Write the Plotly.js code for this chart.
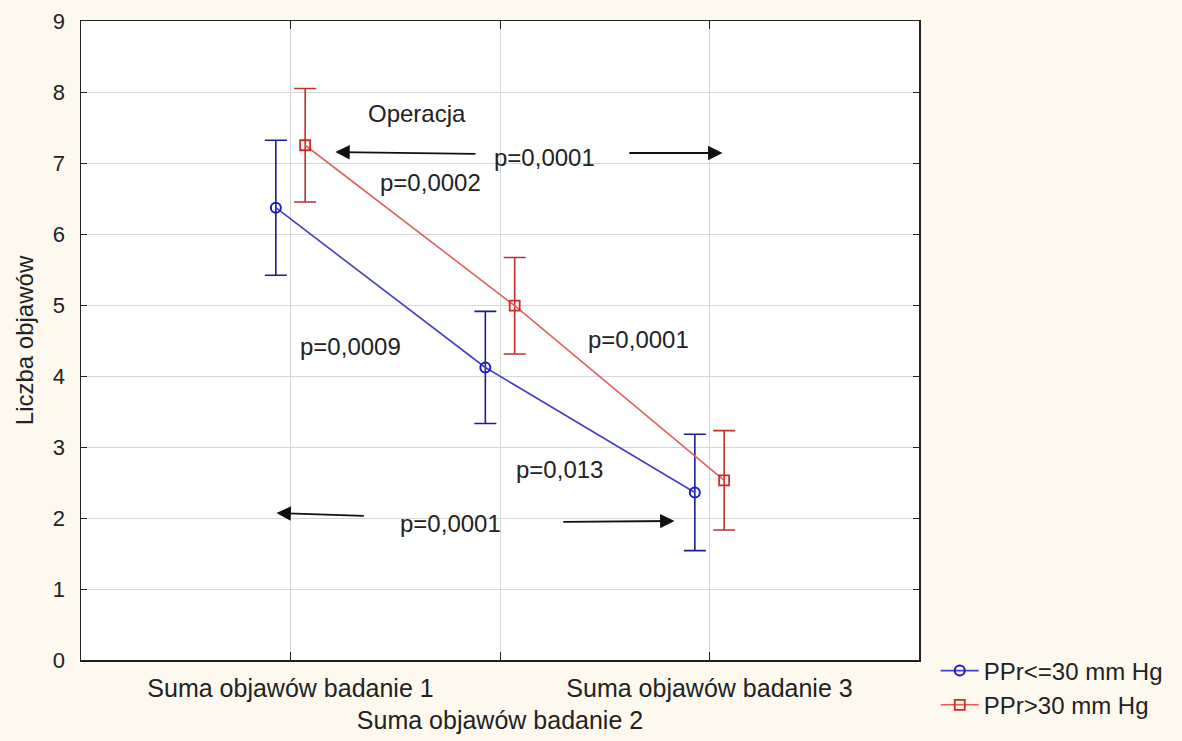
<!DOCTYPE html>
<html>
<head>
<meta charset="utf-8">
<script src="https://cdn.plot.ly/plotly-3.0.1.min.js"></script>
<style>
  html, body { margin: 0; padding: 0; background: #fdf9ee; }
  #chart { width: 1182px; height: 741px; }
</style>
</head>
<body>
<div id="chart"></div>
<script>
// Examinations (category positions 0, 1, 2 on the x axis)
const categories = ["Suma objawów badanie 1", "Suma objawów badanie 2", "Suma objawów badanie 3"];
const categoryPos = [0, 1, 2];

// Group names
const groupLow = "PPr<=30 mm Hg";
const groupHigh = "PPr>30 mm Hg";

// Mean symptom count and error half-width per examination
const meanLow = [6.37, 4.12, 2.36];
const errLow = [0.95, 0.79, 0.82];
const meanHigh = [7.25, 4.99, 2.53];
const errHigh = [0.80, 0.68, 0.70];

// Significance labels
const pLabels = ["p=0,0001", "p=0,0002", "p=0,0009", "p=0,0001", "p=0,013", "p=0,0001"];
const groupNote = "Operacja";

// Small horizontal dodge so the two groups do not overlap
const dodge = 0.07;
const xLow = categoryPos.map(v => v - dodge);
const xHigh = categoryPos.map(v => v + dodge);

// Middle label goes on a second row, as in a staggered axis
const tickText = categories.map((c, i) => i === 1 ? "<br>" + c : c);

const font = "Liberation Sans, Arial, sans-serif";

const traces = [
  {
    x: xLow, y: meanLow, name: groupLow,
    type: "scatter", mode: "lines+markers",
    line: { color: "#4040c8", width: 1.6 },
    marker: { symbol: "circle-open", size: 10, color: "#1c1cc0", line: { width: 2, color: "#1c1cc0" } },
    error_y: { type: "data", array: errLow, visible: true, color: "#1c1c90", thickness: 1.6, width: 11 }
  },
  {
    x: xHigh, y: meanHigh, name: groupHigh,
    type: "scatter", mode: "lines+markers",
    line: { color: "#e06060", width: 1.6 },
    marker: { symbol: "square-open", size: 10, color: "#d02828", line: { width: 1.8, color: "#d02828" } },
    error_y: { type: "data", array: errHigh, visible: true, color: "#c03030", thickness: 1.6, width: 11 }
  }
];

// Text labels inside the plot
const textNote = (text, x, y) => ({
  text: text, x: x, y: y, xref: "x", yref: "y",
  showarrow: false, font: { family: font, size: 24, color: "#222" }
});

// Horizontal arrows between examinations
const arrow = (x0, y0, x1, y1) => ({
  text: "", x: x1, y: y1, ax: x0, ay: y0,
  xref: "x", yref: "y", axref: "x", ayref: "y",
  showarrow: true, arrowhead: 2, arrowsize: 1.6, arrowwidth: 1.8, arrowcolor: "#111"
});

const annotations = [
  textNote(groupNote, 0.605, 7.70),
  textNote(pLabels[0], 1.214, 7.08),
  textNote(pLabels[1], 0.667, 6.72),
  textNote(pLabels[2], 0.286, 4.41),
  textNote(pLabels[3], 1.662, 4.51),
  textNote(pLabels[4], 1.286, 2.68),
  textNote(pLabels[5], 0.762, 1.92),
  arrow(0.890, 7.127, 0.214, 7.155),
  arrow(1.610, 7.141, 2.062, 7.141),
  arrow(0.357, 2.028, -0.067, 2.070),
  arrow(1.295, 1.944, 1.833, 1.958)
];

const layout = {
  width: 1182, height: 741,
  margin: { l: 81, r: 263, t: 21, b: 81 },
  paper_bgcolor: "#fdf9ee",
  plot_bgcolor: "#ffffff",
  font: { family: font, size: 22, color: "#222" },
  showlegend: true,
  legend: {
    x: 1.020, y: 0.018, xanchor: "left", yanchor: "top",
    bgcolor: "rgba(0,0,0,0)", font: { family: font, size: 24, color: "#222" },
    itemwidth: 38, tracegroupgap: 0
  },
  xaxis: {
    range: [-1, 3], automargin: false,
    tickvals: categoryPos, ticktext: tickText, tickangle: 0,
    ticks: "inside", ticklen: 8, tickcolor: "#222",
    showline: true, linecolor: "#222", linewidth: 1.5, mirror: "ticks",
    showgrid: true, gridcolor: "#d6d6d6", gridwidth: 1,
    zeroline: false,
    ticklabelstandoff: 5,
    tickfont: { family: font, size: 25, color: "#222" }
  },
  yaxis: {
    range: [0, 9], dtick: 1, automargin: false,
    ticks: "inside", ticklen: 6, tickcolor: "#222",
    showline: true, linecolor: "#222", linewidth: 1.5, mirror: "ticks",
    showgrid: true, gridcolor: "#d6d6d6", gridwidth: 1,
    zeroline: false,
    ticklabelstandoff: 10,
    tickfont: { family: font, size: 22, color: "#222" },
    title: { text: "Liczba objawów", font: { family: font, size: 24, color: "#222" }, standoff: 12 }
  },
  annotations: annotations
};

Plotly.newPlot("chart", traces, layout, { displayModeBar: false, staticPlot: true });
</script>
</body>
</html>
